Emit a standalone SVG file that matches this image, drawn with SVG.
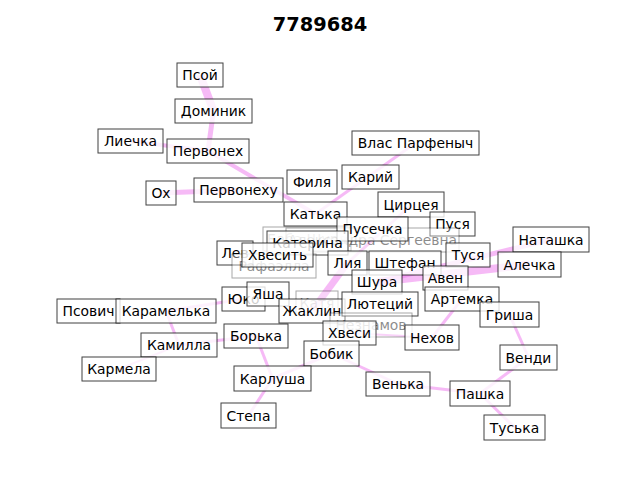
<svg xmlns="http://www.w3.org/2000/svg" width="640" height="480" viewBox="0 0 640 480">
<style>
.e line{stroke:violet;stroke-opacity:0.55;fill:none}
.n rect{fill:#fff;fill-opacity:0.8;stroke:#000;stroke-opacity:0.75;stroke-width:1}
.n text{font-family:"DejaVu Sans",sans-serif;font-size:13.9px;text-anchor:middle;dominant-baseline:central;fill:#000}
.f{opacity:0.45}
</style>
<rect width="640" height="480" fill="#fff"/>
<text x="320" y="24" font-family="DejaVu Sans,sans-serif" font-size="19.4px" font-weight="bold" text-anchor="middle" dominant-baseline="central">7789684</text>
<g id="edges" class="e">
<line x1="200" y1="75" x2="213.5" y2="111" stroke-width="8"/>
<line x1="213.5" y1="111" x2="208" y2="151" stroke-width="5"/>
<line x1="208" y1="151" x2="315.5" y2="214" stroke-width="4"/>
<line x1="130.5" y1="141" x2="208" y2="151" stroke-width="4" stroke-opacity="0.3"/>
<line x1="161" y1="193" x2="238.5" y2="190" stroke-width="5"/>
<line x1="415.5" y1="143" x2="315.5" y2="214" stroke-width="3"/>
<line x1="377" y1="282" x2="551" y2="239.5" stroke-width="5"/>
<line x1="377" y1="282" x2="529.5" y2="264.5" stroke-width="8"/>
<line x1="312" y1="311" x2="347.5" y2="263" stroke-width="7"/>
<line x1="243.5" y1="299" x2="166" y2="311" stroke-width="3"/>
<line x1="166" y1="311" x2="179" y2="345" stroke-width="3"/>
<line x1="119" y1="369" x2="179" y2="345" stroke-width="2"/>
<line x1="179" y1="345" x2="256" y2="336" stroke-width="3"/>
<line x1="256" y1="336" x2="272.5" y2="378.5" stroke-width="3"/>
<line x1="272.5" y1="378.5" x2="248.5" y2="415.5" stroke-width="3"/>
<line x1="272.5" y1="378.5" x2="331.5" y2="353.5" stroke-width="3"/>
<line x1="331.5" y1="353.5" x2="398" y2="384" stroke-width="3"/>
<line x1="398" y1="384" x2="480" y2="393.5" stroke-width="3"/>
<line x1="480" y1="393.5" x2="528.5" y2="357.5" stroke-width="3"/>
<line x1="480" y1="393.5" x2="514.5" y2="427.5" stroke-width="3"/>
<line x1="528.5" y1="357.5" x2="509.5" y2="314.5" stroke-width="3"/>
<line x1="432" y1="337.5" x2="462" y2="299" stroke-width="3"/>
<line x1="349.5" y1="333" x2="432" y2="337.5" stroke-width="2"/>
<line x1="411" y1="205" x2="347.5" y2="263" stroke-width="3"/>
</g>
<g id="n_psoy" class="n"><rect x="177" y="63" width="46" height="24"/><text x="200" y="75">Псой</text></g>
<g id="n_dominik" class="n"><rect x="175" y="99" width="77" height="24"/><text x="213.5" y="111">Доминик</text></g>
<g id="n_liechka" class="n"><rect x="98" y="129" width="65" height="24"/><text x="130.5" y="141">Лиечка</text></g>
<g id="n_pervoneh" class="n"><rect x="167" y="139" width="82" height="24"/><text x="208" y="151">Первонех</text></g>
<g id="n_oh" class="n"><rect x="146" y="181" width="30" height="24"/><text x="161" y="193">Ох</text></g>
<g id="n_pervonehu" class="n"><rect x="194" y="178" width="89" height="24"/><text x="238.5" y="190">Первонеху</text></g>
<g id="n_vlas" class="n"><rect x="352" y="131" width="127" height="24"/><text x="415.5" y="143">Влас Парфеныч</text></g>
<g id="n_filya" class="n"><rect x="287" y="170" width="50" height="24"/><text x="312" y="182">Филя</text></g>
<g id="n_kariy" class="n"><rect x="342" y="165" width="57" height="24"/><text x="370.5" y="177">Карий</text></g>
<g id="n_katka" class="n"><rect x="284" y="202" width="63" height="24"/><text x="315.5" y="214">Катька</text></g>
<g id="n_circeya" class="n"><rect x="378" y="192" width="66" height="25"/><text x="411" y="205">Цирцея</text></g>
<g id="n_pusya" class="n"><rect x="430" y="212" width="45" height="24"/><text x="452.5" y="224">Пуся</text></g>
<g id="n_baba" class="n f"><rect x="263" y="227" width="88" height="24"/><text x="307" y="239">Баба Шура</text></g>
<g id="n_aleks" class="n f"><rect x="286" y="228" width="173" height="24"/><text x="372.5" y="240">Александра Сергеевна</text></g>
<g id="n_pusechka" class="n"><rect x="337" y="217" width="71" height="24"/><text x="372.5" y="229">Пусечка</text></g>
<g id="n_katerina" class="n"><rect x="267" y="231" width="81" height="24"/><text x="307.5" y="243">Катерина</text></g>
<g id="n_lev" class="n"><rect x="217" y="241" width="36" height="24"/><text x="235" y="253">Лев</text></g>
<g id="n_rafaella" class="n f"><rect x="232" y="254" width="84" height="24"/><text x="274" y="266">Рафаэлла</text></g>
<g id="n_hvesit" class="n"><rect x="242" y="243" width="71" height="24"/><text x="277.5" y="255">Хвесить</text></g>
<g id="n_liya" class="n"><rect x="328" y="251" width="39" height="24"/><text x="347.5" y="263">Лия</text></g>
<g id="n_shtefan" class="n"><rect x="369" y="251" width="72" height="24"/><text x="405" y="263">Штефан</text></g>
<g id="n_tusya" class="n"><rect x="446" y="243" width="44" height="24"/><text x="468" y="255">Туся</text></g>
<g id="n_natashka" class="n"><rect x="513" y="227" width="76" height="25"/><text x="551" y="239.5">Наташка</text></g>
<g id="n_alechka" class="n"><rect x="498" y="252" width="63" height="25"/><text x="529.5" y="264.5">Алечка</text></g>
<g id="n_aven" class="n"><rect x="423" y="266" width="45" height="24"/><text x="445.5" y="278">Авен</text></g>
<g id="n_shura" class="n"><rect x="352" y="270" width="50" height="24"/><text x="377" y="282">Шура</text></g>
<g id="n_artemka" class="n"><rect x="425" y="287" width="74" height="24"/><text x="462" y="299">Артемка</text></g>
<g id="n_grisha" class="n"><rect x="480" y="302" width="59" height="25"/><text x="509.5" y="314.5">Гриша</text></g>
<g id="n_katya" class="n f"><rect x="296" y="291" width="42" height="24"/><text x="317" y="303">Катя</text></g>
<g id="n_yuko" class="n"><rect x="222" y="287" width="43" height="24"/><text x="243.5" y="299">Юко</text></g>
<g id="n_yasha" class="n"><rect x="247" y="282" width="42" height="24"/><text x="268" y="294">Яша</text></g>
<g id="n_zhaklin" class="n"><rect x="279" y="299" width="66" height="24"/><text x="312" y="311">Жаклин</text></g>
<g id="n_lyuteciy" class="n"><rect x="342" y="292" width="76" height="24"/><text x="380" y="304">Лютеций</text></g>
<g id="n_neznamov" class="n f"><rect x="330" y="313" width="82" height="24"/><text x="371" y="325">Незнамов</text></g>
<g id="n_hvesi" class="n"><rect x="323" y="321" width="53" height="24"/><text x="349.5" y="333">Хвеси</text></g>
<g id="n_nehov" class="n"><rect x="405" y="325" width="54" height="25"/><text x="432" y="337.5">Нехов</text></g>
<g id="n_borka" class="n"><rect x="224" y="324" width="64" height="24"/><text x="256" y="336">Борька</text></g>
<g id="n_bobik" class="n"><rect x="304" y="341" width="55" height="25"/><text x="331.5" y="353.5">Бобик</text></g>
<g id="n_karlusha" class="n"><rect x="234" y="366" width="77" height="25"/><text x="272.5" y="378.5">Карлуша</text></g>
<g id="n_stepa" class="n"><rect x="221" y="403" width="55" height="25"/><text x="248.5" y="415.5">Степа</text></g>
<g id="n_venka" class="n"><rect x="366" y="372" width="64" height="24"/><text x="398" y="384">Венька</text></g>
<g id="n_pashka" class="n"><rect x="450" y="381" width="60" height="25"/><text x="480" y="393.5">Пашка</text></g>
<g id="n_vendi" class="n"><rect x="500" y="345" width="57" height="25"/><text x="528.5" y="357.5">Венди</text></g>
<g id="n_tuska" class="n"><rect x="484" y="415" width="61" height="25"/><text x="514.5" y="427.5">Туська</text></g>
<g id="n_kamilla" class="n"><rect x="141" y="333" width="76" height="24"/><text x="179" y="345">Камилла</text></g>
<g id="n_karmela" class="n"><rect x="82" y="357" width="74" height="24"/><text x="119" y="369">Кармела</text></g>
<g id="n_psovich" class="n"><rect x="57" y="299" width="63" height="24"/><text x="88.5" y="311">Псович</text></g>
<g id="n_karamelka" class="n"><rect x="116" y="299" width="100" height="24"/><text x="166" y="311">Карамелька</text></g>
</svg>
